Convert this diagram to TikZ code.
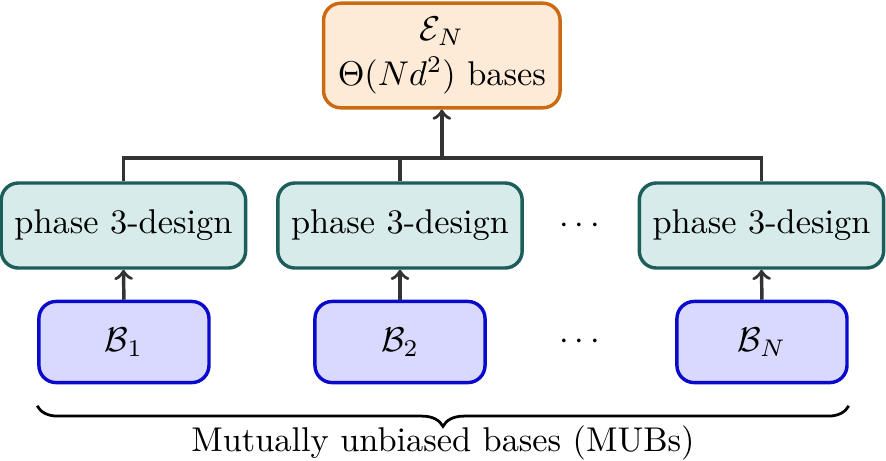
\documentclass[tikz,border=0pt]{standalone}
\usepackage{amssymb}
\usetikzlibrary{arrows,decorations.pathreplacing,positioning,calc}
\definecolor{ensdraw}{HTML}{CC6A12}
\definecolor{ensfill}{HTML}{FDEBD8}
\definecolor{designdraw}{HTML}{1B5E5A}
\definecolor{designfill}{HTML}{D7EBEA}
\definecolor{basedraw}{HTML}{0A0ACC}
\definecolor{basefill}{HTML}{D9D9FF}
\definecolor{linkgray}{HTML}{333333}

\begin{document}
\begin{tikzpicture}[ensnode/.style={rectangle, rounded corners=5pt, draw=ensdraw, fill=ensfill, line width=1pt, align=center, minimum width=2.42cm, minimum height=1.07cm},
designnode/.style={rectangle, rounded corners=5pt, draw=designdraw, fill=designfill, line width=1pt, minimum width=2.5cm, minimum height=0.87cm},
basenode/.style={rectangle, rounded corners=5pt, draw=basedraw, fill=basefill, line width=1pt, minimum width=1.74cm, minimum height=0.83cm},
link/.style={draw=linkgray, line width=1pt},
]

\useasboundingbox (0,0) rectangle (9.064,-4.716);

\node[ensnode]          (ensemble)         at (4.52,-0.568)  {$\mathcal{E}_N$\\[1pt] $\Theta(Nd^2)$ bases};

\node[designnode]       (design1)          at (1.263,-2.307) {phase 3-design};
\node[designnode]       (design2)          at (4.092,-2.307) {phase 3-design};
\node                   (ddots)            at (5.93,-2.307)  {$\cdots$};
\node[designnode]       (design3)          at (7.79,-2.307)  {phase 3-design};

\node[basenode]         (base1)            at (1.268,-3.499) {$\mathcal{B}_1$};
\node[basenode]         (base2)            at (4.092,-3.499) {$\mathcal{B}_2$};
\node                   (bdots)            at (5.93,-3.499)  {$\cdots$};
\node[basenode]         (base3)            at (7.795,-3.499) {$\mathcal{B}_N$};

\coordinate             (bus)              at (4.52,-1.616);

\draw[link,->] (base1.north) -- (design1.south);
\draw[link,->] (base2.north) -- (design2.south);
\draw[link,->] (base3.north) -- (design3.south);

\draw[link] (design1.north) |- (bus) -| (design3.north);
\draw[link] (design2.north) |- (bus);
\draw[link,->] (bus) -- (ensemble.south);

\draw[decorate, decoration={brace, mirror, amplitude=6pt}, thick] ([yshift=-0.22cm]base1.south west) -- node[below=2pt] (mubs) {Mutually unbiased bases (MUBs)} ([yshift=-0.22cm]base3.south east);

\end{tikzpicture}
\end{document}
